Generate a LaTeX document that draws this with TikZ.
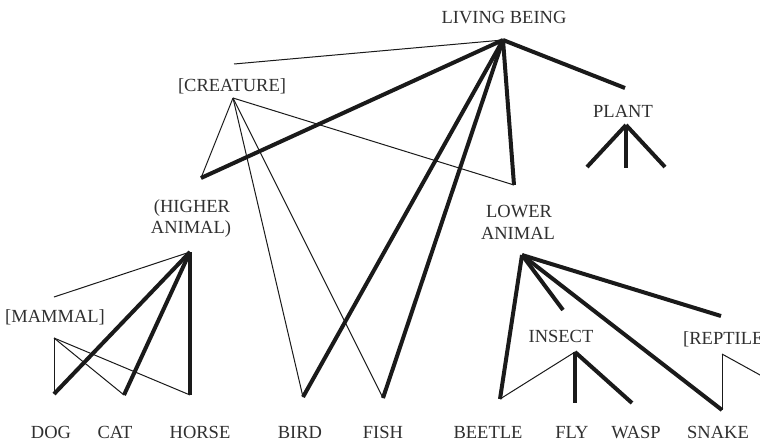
\documentclass[tikz,border=0pt]{standalone}
\usepackage{fontspec}
\setmainfont{Liberation Serif}
\definecolor{ink}{HTML}{1A1A1A}
\definecolor{txt}{HTML}{303030}
\begin{document}
\begin{tikzpicture}[x=1pt,y=-1pt,
  thinln/.style={line width=1pt, draw=ink},
  thickln/.style={line width=4pt, draw=ink},
  lbl/.style={font=\fontsize{18.5}{22}\selectfont, text=txt, inner sep=0pt, anchor=base}]
\useasboundingbox (0,0) rectangle (760,442);
\clip (0,0) rectangle (760,442);
\fill[white] (0,0) rectangle (760,442);
% text labels
\node[lbl] (tlb) at (504,23) {LIVING BEING};
\node[lbl] (tcr) at (232,91) {[CREATURE]};
\node[lbl] (tha1) at (192,212) {(HIGHER};
\node[lbl] (tha2) at (191,233) {ANIMAL)};
\node[lbl] (tma) at (55,322) {[MAMMAL]};
\node[lbl] (tla1) at (519,217) {LOWER};
\node[lbl] (tla2) at (518,239) {ANIMAL};
\node[lbl] (tpl) at (623,117) {PLANT};
\node[lbl] (tin) at (561,342) {INSECT};
\node[lbl, anchor=base west] (tre) at (683,344) {[REPTILE]};
\node[lbl] (tdog) at (51,438) {DOG};
\node[lbl] (tcat) at (115,438) {CAT};
\node[lbl] (thorse) at (200,438) {HORSE};
\node[lbl] (tbird) at (300,438) {BIRD};
\node[lbl] (tfish) at (383,438) {FISH};
\node[lbl] (tbeetle) at (488,438) {BEETLE};
\node[lbl] (tfly) at (572,438) {FLY};
\node[lbl] (twasp) at (636,438) {WASP};
\node[lbl] (tsnake) at (718,438) {SNAKE};
% coordinates
\coordinate (lb) at (503,40);
\coordinate (cfree) at (234,64);
\coordinate (cr) at (233,98);
\coordinate (hal) at (201,178);
\coordinate (lat) at (514,185);
\coordinate (bird) at (303,397);
\coordinate (fish) at (383,398);
\coordinate (plt) at (625,88);
\coordinate (pa) at (626,125);
\coordinate (p1) at (587,167);
\coordinate (p2) at (626,168);
\coordinate (p3) at (665,167);
\coordinate (ha) at (190,252);
\coordinate (hfree) at (54,297);
\coordinate (ma) at (54,338);
\coordinate (dog) at (54,394);
\coordinate (cat) at (124,395);
\coordinate (horse) at (190,395);
\coordinate (la) at (522,255);
\coordinate (beetle) at (500,399);
\coordinate (inst) at (563,310);
\coordinate (snake) at (722,410);
\coordinate (rept) at (721,316);
\coordinate (ia) at (575,352);
\coordinate (fly) at (575,403);
\coordinate (wasp) at (632,403);
\coordinate (ra) at (722,354);
\coordinate (rfree) at (780,386);
% thin connectors
\draw[thinln] (lb) -- (cfree);
\draw[thinln] (cr) -- (hal);
\draw[thinln] (cr) -- (lat);
\draw[thinln] (cr) -- (bird);
\draw[thinln] (cr) -- (fish);
\draw[thinln] (ha) -- (hfree);
\draw[thinln] (ma) -- (dog);
\draw[thinln] (ma) -- (cat);
\draw[thinln] (ma) -- (horse);
\draw[thinln] (ia) -- (beetle);
\draw[thinln] (ra) -- (snake);
\draw[thinln] (ra) -- (rfree);
% thick connectors
\draw[thickln] (lb) -- (hal);
\draw[thickln] (lb) -- (bird);
\draw[thickln] (lb) -- (fish);
\draw[thickln] (lb) -- (lat);
\draw[thickln] (lb) -- (plt);
\draw[thickln] (pa) -- (p1);
\draw[thickln] (pa) -- (p2);
\draw[thickln] (pa) -- (p3);
\draw[thickln] (ha) -- (dog);
\draw[thickln] (ha) -- (cat);
\draw[thickln] (ha) -- (horse);
\draw[thickln] (la) -- (beetle);
\draw[thickln] (la) -- (inst);
\draw[thickln] (la) -- (snake);
\draw[thickln] (la) -- (rept);
\draw[thickln] (ia) -- (fly);
\draw[thickln] (ia) -- (wasp);
\end{tikzpicture}
\end{document}
